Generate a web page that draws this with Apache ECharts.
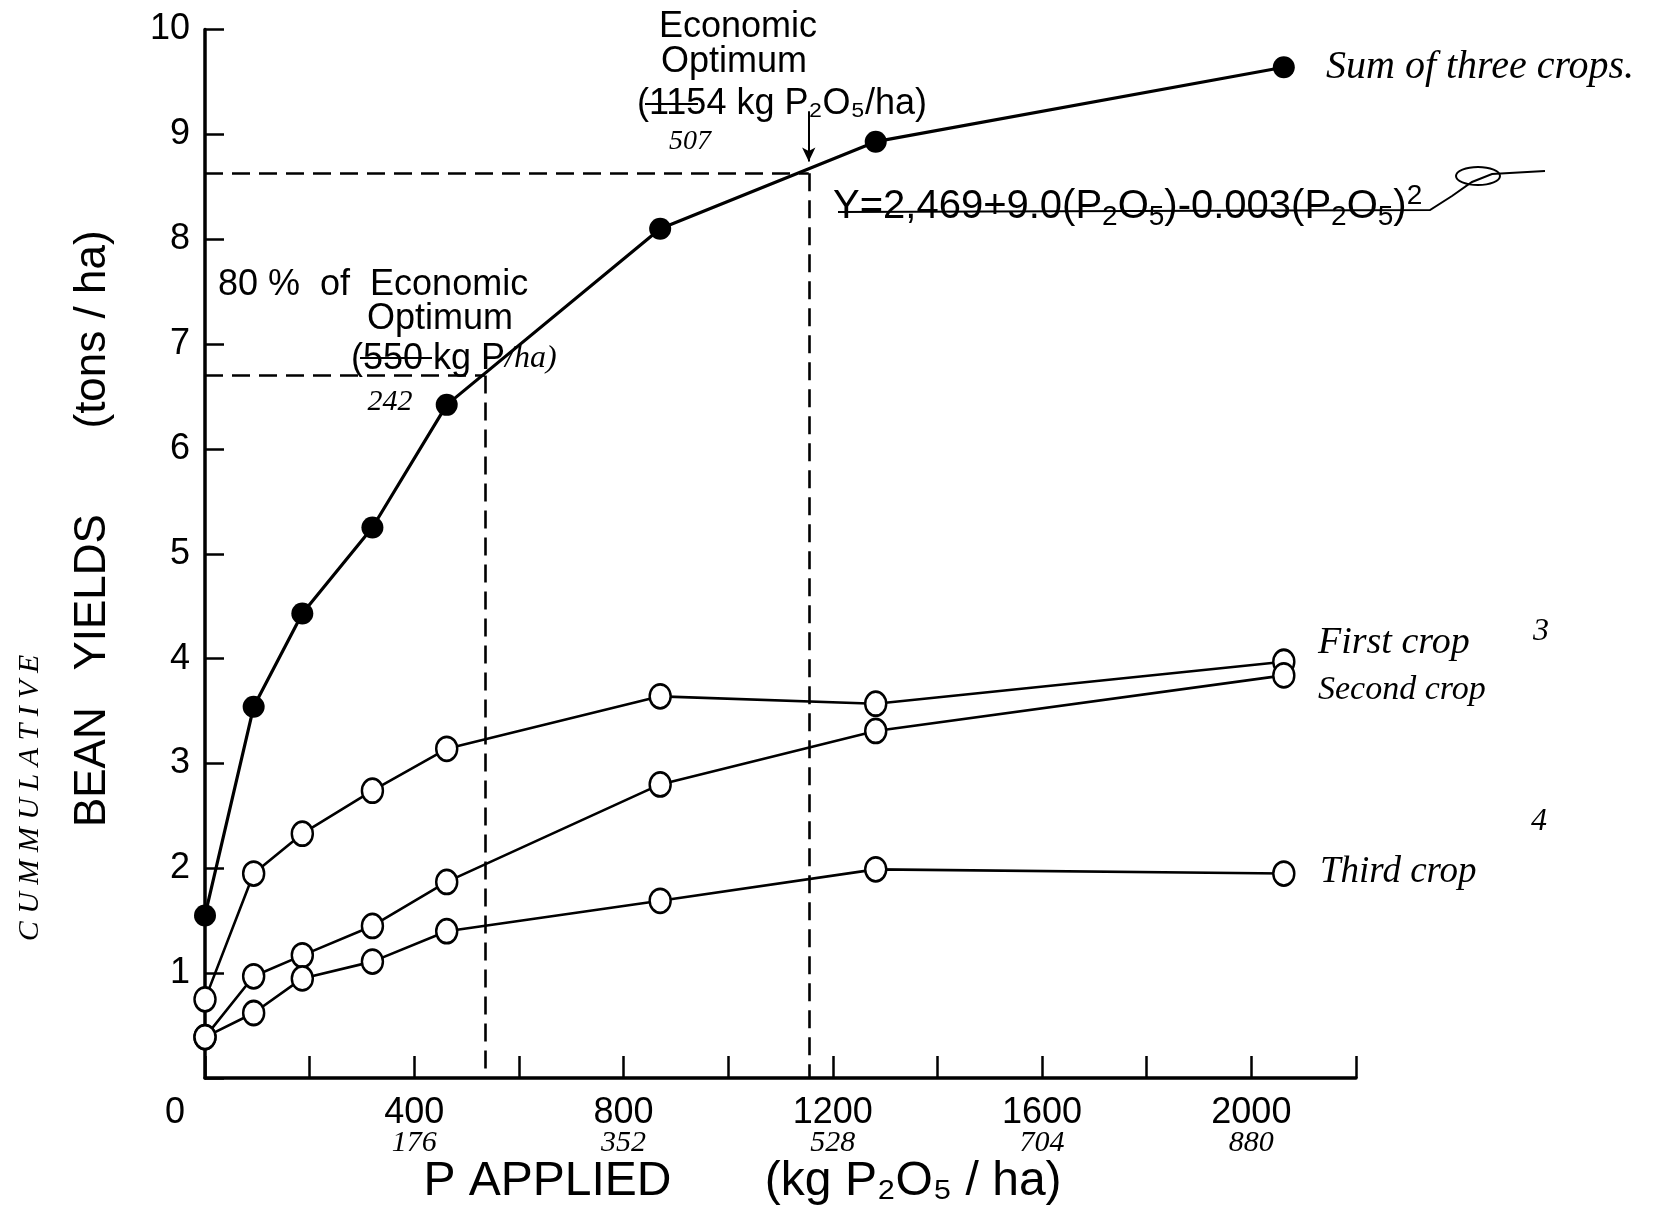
<!DOCTYPE html>
<html>
<head>
<meta charset="utf-8">
<script src="https://cdn.jsdelivr.net/npm/echarts@6/dist/echarts.min.js"></script>
<style>
  html, body { margin: 0; padding: 0; background: #fff; }
  #chart { width: 1653px; height: 1206px; }
</style>
</head>
<body>
<div id="chart"></div>
<script>
// ---- data ----
const pApplied = [0, 93, 186, 320, 462, 870, 1282, 2062];      // kg P2O5/ha
const sumOfThreeCrops = [1.55, 3.54, 4.43, 5.25, 6.42, 8.10, 8.93, 9.64];
const firstCrop  = [0.75, 1.95, 2.33, 2.74, 3.14, 3.64, 3.57, 3.97];
const secondCrop = [0.39, 0.97, 1.17, 1.45, 1.87, 2.80, 3.31, 3.84];
const thirdCrop  = [0.39, 0.62, 0.95, 1.11, 1.40, 1.69, 1.99, 1.95];

const xTickValues = [0, 400, 800, 1200, 1600, 2000];
const xTickLabels = ['0', '400', '800', '1200', '1600', '2000'];
const xTickNotes  = ['', '176', '352', '528', '704', '880'];

const economicOptimum = [1154, 8.63];
const eighty = [535, 6.70];
const arrowFromTo = [9.22, 8.74];

// ---- styles ----
const TYPED = '"Liberation Sans", Arial, sans-serif';
const HAND = '"Liberation Serif", "DejaVu Serif", serif';

const pairs = arr => pApplied.map((x, i) => [x, arr[i]]);

const openSeries = (name, arr) => ({
  name, type: 'line', data: pairs(arr), z: 4,
  symbol: 'circle', symbolSize: [21, 24],
  lineStyle: { color: '#000', width: 2.6 },
  itemStyle: { color: '#fff', borderColor: '#000', borderWidth: 2.6 },
  emphasis: { disabled: true }
});

const dash = { color: '#000', width: 2.6, type: [18, 9] };

const chart = echarts.init(document.getElementById('chart'), null, { renderer: 'canvas' });
chart.setOption({
  backgroundColor: '#fff',
  animation: false,
  grid: { left: 205, right: 297, top: 29.5, bottom: 128, containLabel: false, outerBoundsMode: 'none' },
  xAxis: {
    type: 'value', min: 0, max: 2200, interval: 200,
    name: '{n|P APPLIED       (kg P₂O₅ / ha)}',
    nameLocation: 'middle', nameGap: 80, nameMoveOverlap: false,
    nameTextStyle: { rich: { n: { fontFamily: TYPED, fontSize: 48, color: '#000', padding: [0, 76, 0, 0] } } },
    axisLine: { lineStyle: { color: '#000', width: 3.5 } },
    axisTick: { inside: true, length: 22, lineStyle: { color: '#000', width: 2.5 } },
    splitLine: { show: false },
    axisLabel: {
      margin: 18,
      formatter: v => {
        const i = xTickValues.indexOf(v);
        if (i < 0) return '';
        if (v === 0) return '{z|' + xTickLabels[i] + '}';
        return '{a|' + xTickLabels[i] + '}\n{h|' + xTickNotes[i] + '}';
      },
      rich: {
        z: { fontFamily: TYPED, fontSize: 36, color: '#000', lineHeight: 34, padding: [0, 60, 0, 0] },
        a: { fontFamily: TYPED, fontSize: 36, color: '#000', lineHeight: 34 },
        h: { fontFamily: HAND, fontStyle: 'italic', fontSize: 30, color: '#000', lineHeight: 26 }
      }
    }
  },
  yAxis: {
    type: 'value', min: 0, max: 10, interval: 1,
    name: '{n|BEAN   YIELDS       (tons / ha)}',
    nameLocation: 'middle', nameGap: 90, nameMoveOverlap: false,
    nameTextStyle: { rich: { n: { fontFamily: TYPED, fontSize: 44, color: '#000', padding: [0, 0, 0, 50] } } },
    axisLine: { lineStyle: { color: '#000', width: 3.5 } },
    axisTick: { inside: true, length: 19, lineStyle: { color: '#000', width: 2.5 } },
    splitLine: { show: false },
    axisLabel: {
      margin: 15, fontFamily: TYPED, fontSize: 36, color: '#000',
      formatter: v => (v === 0 ? '' : String(v))
    }
  },
  series: [
    {
      name: 'guides', type: 'line', data: [], z: 2, silent: true,
      markLine: {
        silent: true, symbol: ['none', 'none'], label: { show: false },
        animation: false,
        data: [
          [{ coord: [0, economicOptimum[1]], lineStyle: dash }, { coord: [economicOptimum[0], economicOptimum[1]] }],
          [{ coord: [economicOptimum[0], economicOptimum[1]], lineStyle: dash }, { coord: [economicOptimum[0], 0] }],
          [{ coord: [0, eighty[1]], lineStyle: dash }, { coord: [eighty[0], eighty[1]] }],
          [{ coord: [eighty[0], eighty[1]], lineStyle: dash }, { coord: [eighty[0], 0] }],
          [{ coord: [economicOptimum[0], arrowFromTo[0]], symbol: 'none', lineStyle: { color: '#000', width: 2, type: 'solid' } },
           { coord: [economicOptimum[0], arrowFromTo[1]], symbol: 'arrow', symbolSize: [10, 14] }]
        ]
      }
    },
    {
      name: 'Sum of three crops', type: 'line', data: pairs(sumOfThreeCrops), z: 5,
      symbol: 'circle', symbolSize: 22,
      lineStyle: { color: '#000', width: 3.2 },
      itemStyle: { color: '#000' },
      emphasis: { disabled: true }
    },
    openSeries('First crop', firstCrop),
    openSeries('Second crop', secondCrop),
    openSeries('Third crop', thirdCrop)
  ],
  graphic: [
    // typed annotations
    { type: 'text', x: 738, y: 27, style: { text: 'Economic', font: '36px ' + TYPED, fill: '#000', align: 'center', verticalAlign: 'middle' } },
    { type: 'text', x: 734, y: 62, style: { text: 'Optimum', font: '36px ' + TYPED, fill: '#000', align: 'center', verticalAlign: 'middle' } },
    { type: 'text', x: 637, y: 104, style: { text: '(1154 kg P₂O₅/ha)', font: '36px ' + TYPED, fill: '#000', align: 'left', verticalAlign: 'middle' } },
    { type: 'text', x: 218, y: 285, style: { text: '80 %  of  Economic', font: '36px ' + TYPED, fill: '#000', align: 'left', verticalAlign: 'middle' } },
    { type: 'text', x: 440, y: 319, style: { text: 'Optimum', font: '36px ' + TYPED, fill: '#000', align: 'center', verticalAlign: 'middle' } },
    { type: 'text', x: 351, y: 359, style: {
        text: '{t|(550 kg P}{h|/ha)}', align: 'left', verticalAlign: 'middle',
        rich: { t: { fontFamily: TYPED, fontSize: 36, color: '#000' }, h: { fontFamily: HAND, fontStyle: 'italic', fontSize: 32, color: '#000' } } } },
    { type: 'text', x: 833, y: 207, style: {
        text: '{n|Y=2,469+9.0(P}{s|2}{n|O}{s|5}{n|)-0.003(P}{s|2}{n|O}{s|5}{n|)}{p|2}',
        align: 'left', verticalAlign: 'middle',
        rich: {
          n: { fontFamily: TYPED, fontSize: 40, color: '#000', verticalAlign: 'middle' },
          s: { fontFamily: TYPED, fontSize: 28, color: '#000', padding: [20, 0, 0, 0] },
          p: { fontFamily: TYPED, fontSize: 28, color: '#000', padding: [0, 0, 22, 0] }
        } } },
    // hand-drawn strike-throughs
    { type: 'polyline', shape: { points: [[838, 212], [1430, 210], [1452, 196], [1472, 182], [1492, 174], [1545, 171]] }, style: { stroke: '#000', lineWidth: 2, fill: null } },
    { type: 'ellipse', shape: { cx: 1478, cy: 176, rx: 22, ry: 9 }, style: { stroke: '#000', lineWidth: 2, fill: null } },
    { type: 'line', shape: { x1: 645, y1: 104, x2: 698, y2: 104 }, style: { stroke: '#000', lineWidth: 2 } },
    { type: 'line', shape: { x1: 360, y1: 358, x2: 432, y2: 358 }, style: { stroke: '#000', lineWidth: 2 } },
    // handwritten notes
    { type: 'text', x: 690, y: 142, style: { text: '507', font: 'italic 28px ' + HAND, fill: '#000', align: 'center', verticalAlign: 'middle' } },
    { type: 'text', x: 390, y: 402, style: { text: '242', font: 'italic 30px ' + HAND, fill: '#000', align: 'center', verticalAlign: 'middle' } },
    { type: 'text', x: 1326, y: 67, style: { text: 'Sum of three crops.', font: 'italic 40px ' + HAND, fill: '#000', align: 'left', verticalAlign: 'middle' } },
    { type: 'text', x: 1318, y: 643, style: { text: 'First crop', font: 'italic 38px ' + HAND, fill: '#000', align: 'left', verticalAlign: 'middle' } },
    { type: 'text', x: 1318, y: 690, style: { text: 'Second crop', font: 'italic 34px ' + HAND, fill: '#000', align: 'left', verticalAlign: 'middle' } },
    { type: 'text', x: 1320, y: 872, style: { text: 'Third crop', font: 'italic 37px ' + HAND, fill: '#000', align: 'left', verticalAlign: 'middle' } },
    { type: 'text', x: 1541, y: 632, style: { text: '3', font: 'italic 32px ' + HAND, fill: '#000', align: 'center', verticalAlign: 'middle' } },
    { type: 'text', x: 1539, y: 822, style: { text: '4', font: 'italic 32px ' + HAND, fill: '#000', align: 'center', verticalAlign: 'middle' } },
    { type: 'text', x: 30, y: 798, rotation: Math.PI / 2, style: { text: 'C U M M U L A T I V E', font: 'italic 30px ' + HAND, fill: '#000', align: 'center', verticalAlign: 'middle' } }
  ]
});
</script>
</body>
</html>
